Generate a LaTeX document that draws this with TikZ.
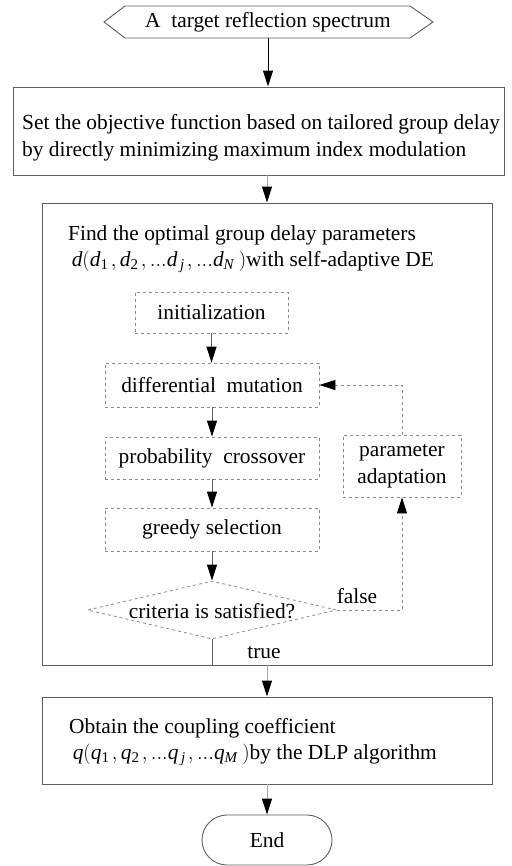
\documentclass[tikz,border=0pt]{standalone}
\usepackage{fontspec}
\setmainfont{Liberation Serif}
\usetikzlibrary{arrows.meta,shapes.geometric}
\definecolor{boxgray}{HTML}{5E5E5E}
\definecolor{dashgray}{HTML}{8A8A8A}
\definecolor{linegray}{HTML}{A8A8A8}
\tikzset{
  every node/.style={font=\rmfamily\fontsize{21.4}{27}\selectfont},
  txt/.style={inner sep=0pt},
  mainbox/.style={draw=boxgray, line width=0.9pt, rectangle, inner sep=0pt},
  innerbox/.style={draw=dashgray, dashed, line width=0.8pt, rectangle, inner sep=0pt},
  tip/.style={-{Triangle[width=10pt,length=16pt,color=black]}},
  conn/.style={draw=linegray, line width=1pt, tip},
  fb/.style={draw=dashgray, dashed, line width=0.8pt},
}
\newcommand{\mysep}{\mskip 2mu}
\begin{document}
\begin{tikzpicture}[x=1pt,y=1pt]
\useasboundingbox (0,0) rectangle (511,-866);
% start hexagon
\node[txt, minimum width=329pt, minimum height=32pt] (start) at (268,-22) {A\ \ target reflection spectrum};
\draw[boxgray, line width=0.9pt] (104,-22) -- (125,-6) -- (410,-6) -- (433,-22) -- (410,-38) -- (125,-38) -- cycle;
% box 2
\node[mainbox, minimum width=491pt, minimum height=88pt] (obj) at (258.5,-131) {};
\node[txt, align=left, anchor=west] (objtxt) at (22,-138) {Set the objective function based on tailored group delay\\by directly minimizing maximum index modulation};
% big box
\node[mainbox, minimum width=450pt, minimum height=462pt] (big) at (267,-434) {};
\node[txt, align=left, anchor=west] (bigtxt) at (68,-249) {Find the optimal group delay parameters\\[-1pt]
\,$\mathit{d}\big(\mathit{d}_{\mathrm{1}}\mysep,\mathit{d}_{\mathrm{2}}\mysep,\mathrm{...}\mathit{d}_{\,\mathit{j}}\mysep,\mathrm{...}\mathit{d}_{\mathit{N}}\mskip 4mu\big)$with self-adaptive DE};
% inner boxes
\node[innerbox, minimum width=153pt, minimum height=41pt] (init) at (211.5,-312.5) {initialization};
\node[innerbox, minimum width=214pt, minimum height=44pt] (mut) at (212,-385) {differential\ \ mutation};
\node[innerbox, minimum width=214pt, minimum height=42pt] (cross) at (212,-458) {probability\ \ crossover};
\node[innerbox, minimum width=214pt, minimum height=43pt] (sel) at (212,-529.5) {greedy selection};
\node[innerbox, minimum width=118pt, minimum height=62pt, align=center] (adapt) at (402,-466) {parameter\\adaptation};
\node[draw=dashgray, dashed, line width=0.8pt, diamond, inner sep=0pt, minimum width=249pt, minimum height=58pt] (dia) at (212,-610) {};
\node[txt] (diatxt) at (212,-611) {criteria is satisfied?};
\node[txt] (falselbl) at (357,-596) {false};
\node[txt] (truelbl) at (264,-653) {true};
% final box
\node[mainbox, minimum width=450pt, minimum height=87pt] (fin) at (267,-740.5) {};
\node[txt, align=left, anchor=west] (fintxt) at (69,-742) {Obtain the coupling coefficient\\[-1pt]
\,$\mathit{q}\big(\mathit{q}_{\mathrm{1}}\mysep,\mathit{q}_{\mathrm{2}}\mysep,\mathrm{...}\mathit{q}_{\,\mathit{j}}\mysep,\mathrm{...}\mathit{q}_{\mathit{M}}\mskip 4mu\big)$by the DLP algorithm};
% end
\node[draw=boxgray, line width=0.9pt, rounded corners=25pt, minimum width=130pt, minimum height=50pt, txt] (endn) at (267,-840) {End};
% connectors
\draw[conn, draw=black] (start.south) -- (start.south |- obj.north);
\draw[conn] (big.north |- obj.south) -- (big.north);
\draw[conn, draw=boxgray] (init.south) -- (init.south |- mut.north);
\draw[conn, draw=boxgray] (mut.south) -- (cross.north);
\draw[conn, draw=boxgray] (cross.south) -- (sel.north);
\draw[conn, draw=boxgray] (sel.south) -- (dia.north);
\draw[fb, tip] (dia.east) -| (adapt.south);
\draw[fb, tip] (adapt.north) |- (mut.east);
\draw[draw=boxgray, line width=0.9pt] (dia.south) |- (big.south);
\draw[conn] (big.south) -- (fin.north);
\draw[conn] (fin.south) -- (endn.north);
\end{tikzpicture}
\end{document}
